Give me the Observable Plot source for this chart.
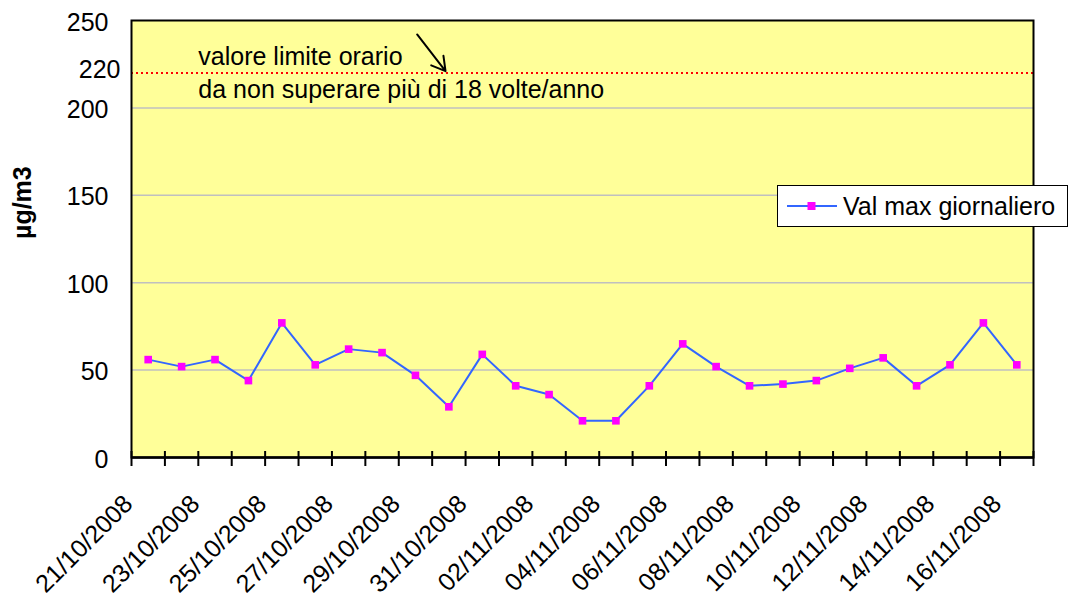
<!DOCTYPE html>
<html>
<head>
<meta charset="utf-8">
<script src="https://cdn.jsdelivr.net/npm/d3@7"></script>
<script src="https://cdn.jsdelivr.net/npm/@observablehq/plot@0.6"></script>
<style>
  body { margin: 0; background: #fff; font-family: "Liberation Sans", Arial, sans-serif; }
  #wrap { position: relative; width: 1070px; height: 595px; overflow: hidden; }
  #legend {
    position: absolute; left: 777px; top: 185px; width: 291px; height: 42px;
    box-sizing: border-box; border: 1.5px solid #000; background: #fff;
    display: flex; align-items: center; font-size: 25px; color: #000;
  }
  #legend svg { margin-left: 9px; margin-right: 6px; }
</style>
</head>
<body>
<div id="wrap"></div>
<script>
// ---- data ----
const dates = [
  "21/10/2008","22/10/2008","23/10/2008","24/10/2008","25/10/2008","26/10/2008",
  "27/10/2008","28/10/2008","29/10/2008","30/10/2008","31/10/2008",
  "01/11/2008","02/11/2008","03/11/2008","04/11/2008","05/11/2008","06/11/2008",
  "07/11/2008","08/11/2008","09/11/2008","10/11/2008","11/11/2008","12/11/2008",
  "13/11/2008","14/11/2008","15/11/2008","16/11/2008"
];
const values = [56, 52, 56, 44, 77, 53, 62, 60, 47, 29, 59, 41, 36, 21, 21, 41, 65, 52, 41, 42, 44, 51, 57, 41, 53, 77, 53];
const yTicks = [0, 50, 100, 150, 200, 250];
const gridValues = [50, 100, 150, 200];
const limitValue = 220;
const limitLabel = "220";
const noteLines = ["valore limite orario", "da non superare più di 18 volte/anno"];
const seriesName = "Val max giornaliero";
const yTitle = "µg/m3";
const labelIndices = d3.range(0, dates.length, 2);
const boundaries = d3.range(dates.length + 1).map(i => i - 0.5);
const noteX = 1.5;              // note text starts at this category boundary
const arrowFrom = {x: 8.05, y: 242};
const arrowTo = {x: 8.9, y: 221};

const table = dates.map((d, i) => ({i, date: d, value: values[i]}));

const font = "'Liberation Sans', Arial, sans-serif";
const chart = Plot.plot({
  width: 1070, height: 595,
  marginLeft: 131, marginRight: 37, marginTop: 20, marginBottom: 138,
  style: {fontFamily: font, fontSize: "25px", color: "#000", background: "#fff", overflow: "visible"},
  x: {domain: [-0.5, dates.length - 0.5], axis: null},
  y: {domain: [0, 250], axis: null},
  marks: [
    Plot.frame({fill: "#FFFF99"}),
    Plot.ruleY(gridValues, {stroke: "#C0C0C0", strokeWidth: 1.5}),
    Plot.ruleY([limitValue], {stroke: "#FF0000", strokeWidth: 2, strokeDasharray: "2,3"}),
    Plot.frame({stroke: "#000", strokeWidth: 2}),
    // y axis labels
    Plot.axisY(yTicks, {tickSize: 0, tickPadding: 23, fontSize: 25, label: null, dy: 2}),
    Plot.text([limitLabel], {y: limitValue, frameAnchor: "left", textAnchor: "end", lineAnchor: "bottom", dx: -11, dy: 5, fontSize: 25}),
    Plot.text([yTitle], {frameAnchor: "left", rotate: -90, lineAnchor: "bottom", dx: -101, fontWeight: "bold", fontSize: 25}),
    // x ticks at category boundaries (crossing the axis)
    Plot.axisX(boundaries, {tickSize: 15, dy: -6, tickFormat: () => "", label: null, strokeWidth: 2}),
    Plot.ruleY([0], {stroke: "#000", strokeWidth: 2.5}),
    // x labels
    Plot.text(labelIndices, {x: d => d, y: 0, text: d => dates[d], rotate: -45, textAnchor: "end", lineAnchor: "bottom", dx: -14, dy: 48, fontSize: 25}),
    // limit note
    Plot.text([noteLines[0]], {x: noteX, y: limitValue, textAnchor: "start", lineAnchor: "bottom", dy: -8, fontSize: 25}),
    Plot.text([noteLines[1]], {x: noteX, y: limitValue, textAnchor: "start", lineAnchor: "bottom", dy: 25, fontSize: 25}),
    Plot.arrow([0], {x1: () => arrowFrom.x, y1: () => arrowFrom.y, x2: () => arrowTo.x, y2: () => arrowTo.y, stroke: "#000", strokeWidth: 2, headLength: 12}),
    // series
    Plot.line(table, {x: "i", y: "value", stroke: "#3366FF", strokeWidth: 2}),
    Plot.dot(table, {x: "i", y: "value", symbol: "square", fill: "#FF00FF", r: 4.3, stroke: "none"})
  ]
});

const wrap = document.getElementById("wrap");
wrap.appendChild(chart);

const legend = document.createElement("div");
legend.id = "legend";
legend.innerHTML = `<svg width="50" height="20"><line x1="0" x2="50" y1="10" y2="10" stroke="#3366FF" stroke-width="2"/><rect x="20.5" y="6" width="8" height="8" fill="#FF00FF"/></svg>`;
const span = document.createElement("span");
span.textContent = seriesName;
legend.appendChild(span);
wrap.appendChild(legend);
</script>
</body>
</html>
